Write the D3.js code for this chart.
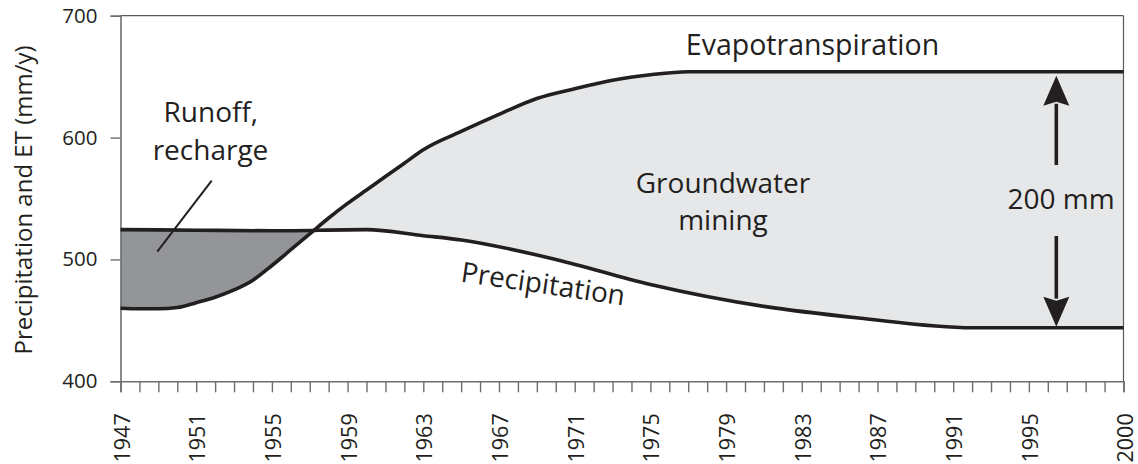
<!DOCTYPE html>
<html><head><meta charset="utf-8">
<script src="https://cdn.jsdelivr.net/npm/d3@7"></script>
<style>
html,body{margin:0;padding:0;background:#fff;}
svg{display:block;font-family:"Open Sans",sans-serif;}
</style></head>
<body>
<svg id="chart" width="1138" height="464"></svg>
<script>
// ---- data ----
const etYears   = [1947,1948,1949,1950,1951,1952,1953,1954,1955,1956,1957,1958,1959,1960,1961,1962,1963,1965,1967,1969,1971,1973,1975,1977,2000];
const etValues  = [460,459.5,459.5,460.5,464.5,469,475,483,495,508,521,534,546,557,568,579,590,605,619,632,640,647,651.5,654,654];
const pYears    = [1947,1951,1955,1960,1963,1965,1970,1975,1981,1986,1992,2000];
const pValues   = [524.5,524,523.5,524.5,519.5,516,500,479.5,461.5,452,444,444];
const xTickYears  = d3.range(1947, 2001);
const xLabelYears = [1947,1951,1955,1959,1963,1967,1971,1975,1979,1983,1987,1991,1995,2000];
const yTicks      = [400,500,600,700];

const svg = d3.select("#chart");
const L = 120.5, R = 1123.5, T = 15.7, B = 381.3;
const x = d3.scaleLinear().domain([1947,2000]).range([L,R]);
const y = d3.scaleLinear().domain([400,700]).range([B,T]);
const ink = "#231f20", axisCol = "#6d6e71";

const et = etYears.map((yr,i)=>({yr, v:etValues[i]}));
const pr = pYears.map((yr,i)=>({yr, v:pValues[i]}));
const curve = d3.curveMonotoneX;

// clip paths
const defs = svg.append("defs");
defs.append("clipPath").attr("id","aboveET").append("path")
  .attr("d", d3.area().curve(curve).x(d=>x(d.yr)).y0(d=>y(d.v)).y1(T)(et));
defs.append("clipPath").attr("id","belowET").append("path")
  .attr("d", d3.area().curve(curve).x(d=>x(d.yr)).y0(d=>y(d.v)).y1(B)(et));

// dark: below P and above ET
svg.append("path").attr("clip-path","url(#aboveET)")
  .attr("d", d3.area().curve(curve).x(d=>x(d.yr)).y0(d=>y(d.v)).y1(B)(pr))
  .attr("fill","#939598");
// light: above P and below ET
svg.append("path").attr("clip-path","url(#belowET)")
  .attr("d", d3.area().curve(curve).x(d=>x(d.yr)).y0(d=>y(d.v)).y1(T)(pr))
  .attr("fill","#e6e7e8");

// frame (top + right)
svg.append("line").attr("x1",L).attr("x2",R).attr("y1",T).attr("y2",T).attr("stroke","#58595b").attr("stroke-width",1.2);
svg.append("line").attr("x1",R).attr("x2",R).attr("y1",T).attr("y2",B).attr("stroke","#58595b").attr("stroke-width",1.2);

// axes
const xAxis = d3.axisBottom(x).tickValues(xTickYears).tickSize(11).tickPadding(0)
  .tickFormat(d => xLabelYears.includes(d) ? String(d) : "");
const gx = svg.append("g").attr("transform",`translate(0,${B})`).call(xAxis);
gx.select(".domain").attr("stroke",axisCol).attr("stroke-width",1.6);
gx.selectAll(".tick line").attr("stroke",axisCol).attr("stroke-width",1.4);
gx.selectAll(".tick text")
  .attr("font-family","Open Sans").attr("font-size",21.5).attr("fill",ink)
  .attr("text-anchor","end").attr("dy",null)
  .attr("transform","rotate(-90)").attr("x",-32).attr("y",0).attr("dominant-baseline","central");

const yAxis = d3.axisLeft(y).tickValues(yTicks).tickSize(10).tickPadding(13);
const gy = svg.append("g").attr("transform",`translate(${L},0)`).call(yAxis);
gy.select(".domain").attr("stroke",axisCol).attr("stroke-width",1.6);
gy.selectAll(".tick line").attr("stroke",axisCol).attr("stroke-width",1.4);
gy.selectAll(".tick text").attr("font-family","Open Sans").attr("font-size",20.5).attr("fill",ink);

// lines
const line = d3.line().curve(curve).x(d=>x(d.yr)).y(d=>y(d.v));
svg.append("path").attr("d",line(pr)).attr("fill","none").attr("stroke",ink).attr("stroke-width",3.6);
svg.append("path").attr("d",line(et)).attr("fill","none").attr("stroke",ink).attr("stroke-width",3.6);

// text helper
function txt(s, px, py, size, anchor="middle", rot=0){
  const t = svg.append("text").text(s).attr("font-size",size).attr("fill",ink)
    .attr("text-anchor",anchor);
  if(rot) t.attr("transform",`translate(${px},${py}) rotate(${rot})`);
  else t.attr("x",px).attr("y",py);
  return t;
}
txt("Evapotranspiration", 812.5, 55, 28.5);
txt("Groundwater", 723, 193, 28);
txt("mining", 723, 230, 28);
txt("Precipitation", 460, 281.5, 28, "start", 8.3);
txt("200 mm", 1061, 209, 28);
txt("Runoff,", 210.8, 121.7, 28);
txt("recharge", 210.5, 160, 28);
txt("Precipitation and ET (mm/y)", 32, 200, 24, "middle", -90);

// leader line
svg.append("line").attr("x1",211.7).attr("y1",180.7).attr("x2",157.3).attr("y2",251.7)
  .attr("stroke",ink).attr("stroke-width",2);

// double arrow (200 mm)
const ax = x(1996.45);
const hw = 13, hl = 30;
const topTip = y(654) + 4, botTip = y(444) - 1;
svg.append("line").attr("x1",ax).attr("x2",ax).attr("y1",topTip+hl-2).attr("y2",165).attr("stroke",ink).attr("stroke-width",3.6);
svg.append("path").attr("d",`M${ax},${topTip} L${ax+hw},${topTip+hl} L${ax},${topTip+hl-4} L${ax-hw},${topTip+hl} Z`).attr("fill",ink);
svg.append("line").attr("x1",ax).attr("x2",ax).attr("y1",236).attr("y2",botTip-hl+2).attr("stroke",ink).attr("stroke-width",3.6);
svg.append("path").attr("d",`M${ax},${botTip} L${ax+hw},${botTip-hl} L${ax},${botTip-hl+4} L${ax-hw},${botTip-hl} Z`).attr("fill",ink);
</script>
</body></html>
